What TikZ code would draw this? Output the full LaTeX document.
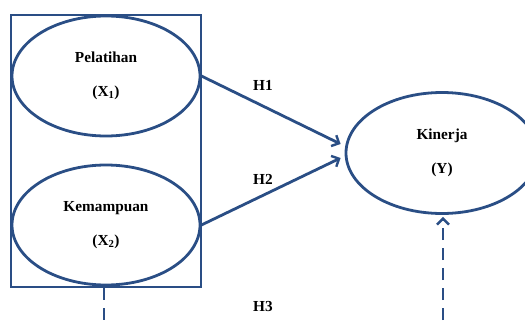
\documentclass[tikz,border=0pt]{standalone}
\usepackage{fontspec}
\setmainfont{Liberation Serif}
\usetikzlibrary{arrows.meta,positioning,calc,shapes.geometric}
\definecolor{navy}{HTML}{2A4E85}

\begin{document}
\begin{tikzpicture}[
  x=1pt,y=-1pt,
  var/.style={ellipse,draw=navy,line width=2.8pt,minimum width=188pt,minimum height=120pt,inner sep=0pt,align=center,font=\fontsize{15.3}{34}\selectfont\bfseries},
  frame/.style={draw=navy,line width=2.8pt,minimum width=190pt,minimum height=272pt,inner sep=0pt},
  lbl/.style={font=\fontsize{15.3}{17}\selectfont\bfseries},
  arr/.style={-{Straight Barb[length=6pt,width=12pt,line width=2.4pt]},line width=2.8pt,draw=navy},
  dashline/.style={line width=2.8pt,draw=navy,dash pattern=on 12pt off 8pt}
]
\useasboundingbox (0,0) rectangle (525,324);
\clip (0,0) rectangle (525,324);
\node[frame] (group) at (106,151) {};
\node[var] (train) at (106,76) {Pelatihan\\(X\textsubscript{1})};
\node[var] (skill) at (106,225) {Kemampuan\\(X\textsubscript{2})};
\node[var,minimum width=192pt,minimum height=121pt] (perf) at (442,153) {Kinerja\\(Y)};

\draw[arr] (train.east) -- ([xshift=-4pt,yshift=9pt]perf.west);
\draw[arr] (skill.east) -- ([xshift=-4pt,yshift=-5pt]perf.west);
\node[lbl] (h1) at (263,85) {H1};
\node[lbl] (h2) at (263,179) {H2};
\node[lbl] (h3) at (263,307) {H3};

\coordinate (lowleft) at (104,340);
\coordinate (lowright) at (443,340);
\draw[dashline] (group.south -| lowleft) -- (lowleft);
\draw[dashline,-{Straight Barb[length=6pt,width=12pt,line width=2.4pt]},shorten >=2pt] (lowright) -- (lowright |- perf.south);
\end{tikzpicture}
\end{document}
